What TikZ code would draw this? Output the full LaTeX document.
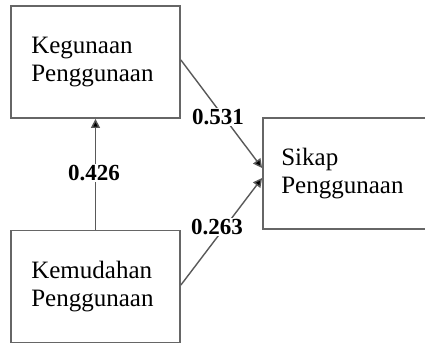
\documentclass[tikz,border=0pt]{standalone}
\usepackage{fontspec}
\setmainfont{Liberation Serif}
\usetikzlibrary{arrows.meta}
\begin{document}
\begin{tikzpicture}[x=1pt,y=-1pt,
  box/.style={draw=gray!80!black, line width=1.8pt, minimum width=169pt, minimum height=112pt, inner sep=0pt},
  lbl/.style={font=\fontsize{25}{28}\selectfont, align=left, inner sep=0pt, anchor=west},
  coef/.style={font=\fontsize{23}{26}\selectfont\bfseries, fill=white, inner sep=1.5pt},
  conn/.style={draw=gray!70!black, line width=1.4pt, -{Triangle[length=9pt,width=9pt,fill=black]}}]
\useasboundingbox (0,0) rectangle (425,345);
\node[box] (k) at (95.5,62) {};
\node[lbl] (kt) at ([xshift=21pt]k.west) {Kegunaan\\Penggunaan};
\node[box] (m) at (95.5,286.5) {};
\node[lbl] (mt) at ([xshift=21pt]m.west) {Kemudahan\\Penggunaan};
\node[box, minimum width=170pt, minimum height=111pt] (s) at (348,173.5) {};
\node[lbl] (st) at ([xshift=19pt]s.west) {Sikap\\Penggunaan};
\coordinate (s1) at ([yshift=5.5pt]s.west);
\coordinate (s2) at ([yshift=-4.5pt]s.west);
\coordinate (k1) at ([yshift=2pt]k.east);
\coordinate (m1) at ([yshift=1.5pt]m.east);
\draw[conn] (m.north) -- (k.south);
\draw[conn] (k1) -- (s1);
\draw[conn] (m1) -- (s2);
\node[coef] (c1) at (94,173) {0.426};
\node[coef] (c2) at (218,117) {0.531};
\node[coef] (c3) at (217,227) {0.263};
\end{tikzpicture}
\end{document}
